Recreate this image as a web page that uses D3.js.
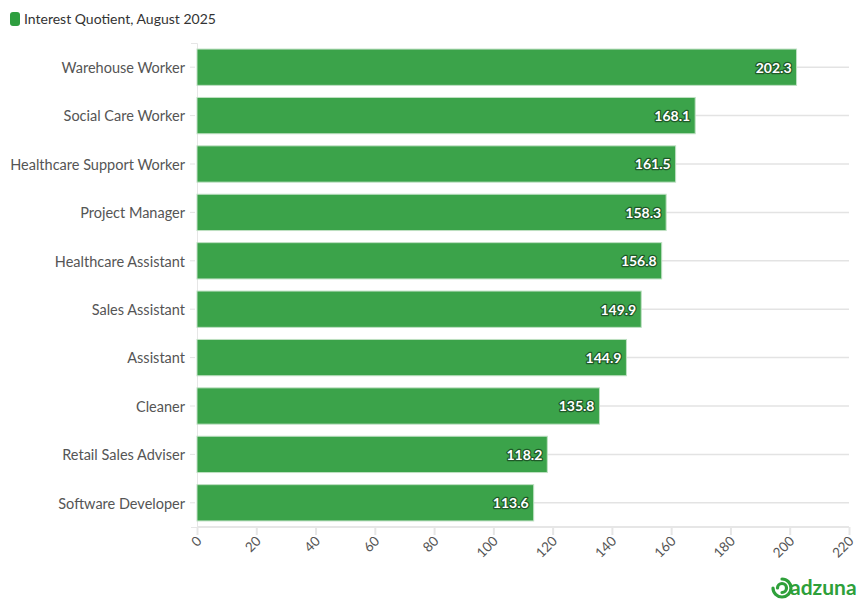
<!DOCTYPE html>
<html>
<head>
<meta charset="utf-8">
<script src="https://cdn.jsdelivr.net/npm/d3@7"></script>
<style>
  html, body { margin: 0; padding: 0; background: #fff; }
  svg { display: block; font-family: "Source Sans Pro", Lato, "Open Sans", sans-serif; }
</style>
</head>
<body>
<svg id="chart" width="864" height="609"></svg>
<script>
const categories = ["Warehouse Worker", "Social Care Worker", "Healthcare Support Worker", "Project Manager",
  "Healthcare Assistant", "Sales Assistant", "Assistant", "Cleaner", "Retail Sales Adviser", "Software Developer"];
const values = [202.3, 168.1, 161.5, 158.3, 156.8, 149.9, 144.9, 135.8, 118.2, 113.6];
const xTicks = [0, 20, 40, 60, 80, 100, 120, 140, 160, 180, 200, 220];
const seriesName = "Interest Quotient, August 2025";

const svg = d3.select("#chart");
const plotLeft = 197, plotRight = 849, plotTop = 43, plotBottom = 527;
const green = "#3ba34a";

const x = d3.scaleLinear().domain([0, 220]).range([plotLeft, plotRight]);
const y = d3.scaleBand().domain(categories).range([plotTop, plotBottom]).paddingInner(0.25).paddingOuter(0.125);

// horizontal grid lines at category centers
svg.append("g").selectAll("line").data(categories).join("line")
  .attr("x1", plotLeft).attr("x2", plotRight)
  .attr("y1", d => y(d) + y.bandwidth() / 2).attr("y2", d => y(d) + y.bandwidth() / 2)
  .attr("stroke", "#e3e3e3").attr("stroke-width", 1.5);

// y axis
const yAxis = svg.append("g").attr("transform", `translate(${plotLeft},0)`)
  .call(d3.axisLeft(y).tickSize(6).tickPadding(5));
yAxis.select(".domain").attr("stroke", "#e6e6e6");
yAxis.selectAll(".tick line").attr("stroke", "#e3e3e3").attr("x1", -2).attr("x2", -7);
yAxis.selectAll(".tick text").attr("fill", "#555").style("font-size", "14.5px")
  .style("font-family", '"Source Sans Pro", Lato, sans-serif').attr("x", -12).attr("dy", "0.4em");

// x axis
const xAxis = svg.append("g").attr("transform", `translate(0,${plotBottom})`)
  .call(d3.axisBottom(x).tickValues(xTicks).tickSize(8).tickFormat(d3.format("d")));
xAxis.select(".domain").attr("stroke", "#e6e6e6").attr("stroke-width", 2)
  .attr("d", `M${plotLeft},0H${plotRight}`);
xAxis.selectAll(".tick line").attr("stroke", "#e6e6e6").attr("stroke-width", 2);
xAxis.selectAll(".tick text").attr("fill", "#555").style("font-size", "13.5px")
  .style("font-family", '"Source Sans Pro", Lato, sans-serif')
  .attr("text-anchor", "end").attr("dy", null).attr("y", 0)
  .attr("transform", "translate(5,15) rotate(-45)");

// bars
svg.append("g").selectAll("rect").data(values).join("rect")
  .attr("x", x(0))
  .attr("y", (d, i) => y(categories[i]))
  .attr("width", d => x(d) - x(0))
  .attr("height", y.bandwidth())
  .attr("fill", green)
  .attr("stroke", "#bfe0c3").attr("stroke-width", 1);

// labels with outline
const lbl = svg.append("g").selectAll("g").data(values).join("g");
lbl.append("text")
  .attr("x", d => x(d) - 5)
  .attr("y", (d, i) => y(categories[i]) + y.bandwidth() / 2)
  .attr("dy", "0.38em").attr("text-anchor", "end")
  .style("font-size", "14px").style("font-weight", "bold")
  .attr("fill", "none").attr("stroke", "#1f5a28").attr("stroke-width", 2.5).attr("stroke-linejoin", "round")
  .text(d => d.toFixed(1));
lbl.append("text")
  .attr("x", d => x(d) - 5)
  .attr("y", (d, i) => y(categories[i]) + y.bandwidth() / 2)
  .attr("dy", "0.38em").attr("text-anchor", "end")
  .style("font-size", "14px").style("font-weight", "bold")
  .attr("fill", "#fff")
  .text(d => d.toFixed(1));

// legend
svg.append("rect").attr("x", 10).attr("y", 12).attr("width", 10).attr("height", 14)
  .attr("rx", 3).attr("fill", "#2e9e3f");
svg.append("text").attr("x", 24).attr("y", 24).attr("fill", "#333")
  .style("font-size", "14px").text(seriesName);

// adzuna logo
const logo = svg.append("g").attr("transform", "translate(782,588)");
logo.append("path")
  .attr("d", "M0,-9 A9,9 0 1,1 -9,0 M-4.5,0 A4.5,4.5 0 1,1 0,4.5")
  .attr("fill", "none").attr("stroke", "#2ea03a").attr("stroke-width", 3.2).attr("stroke-linecap", "round");
logo.append("text").attr("x", 8).attr("y", 7).attr("fill", "#2ea03a")
  .style("font-size", "21px").style("font-weight", "bold").style("font-family", "Lato, sans-serif")
  .text("adzuna");
</script>
</body>
</html>
